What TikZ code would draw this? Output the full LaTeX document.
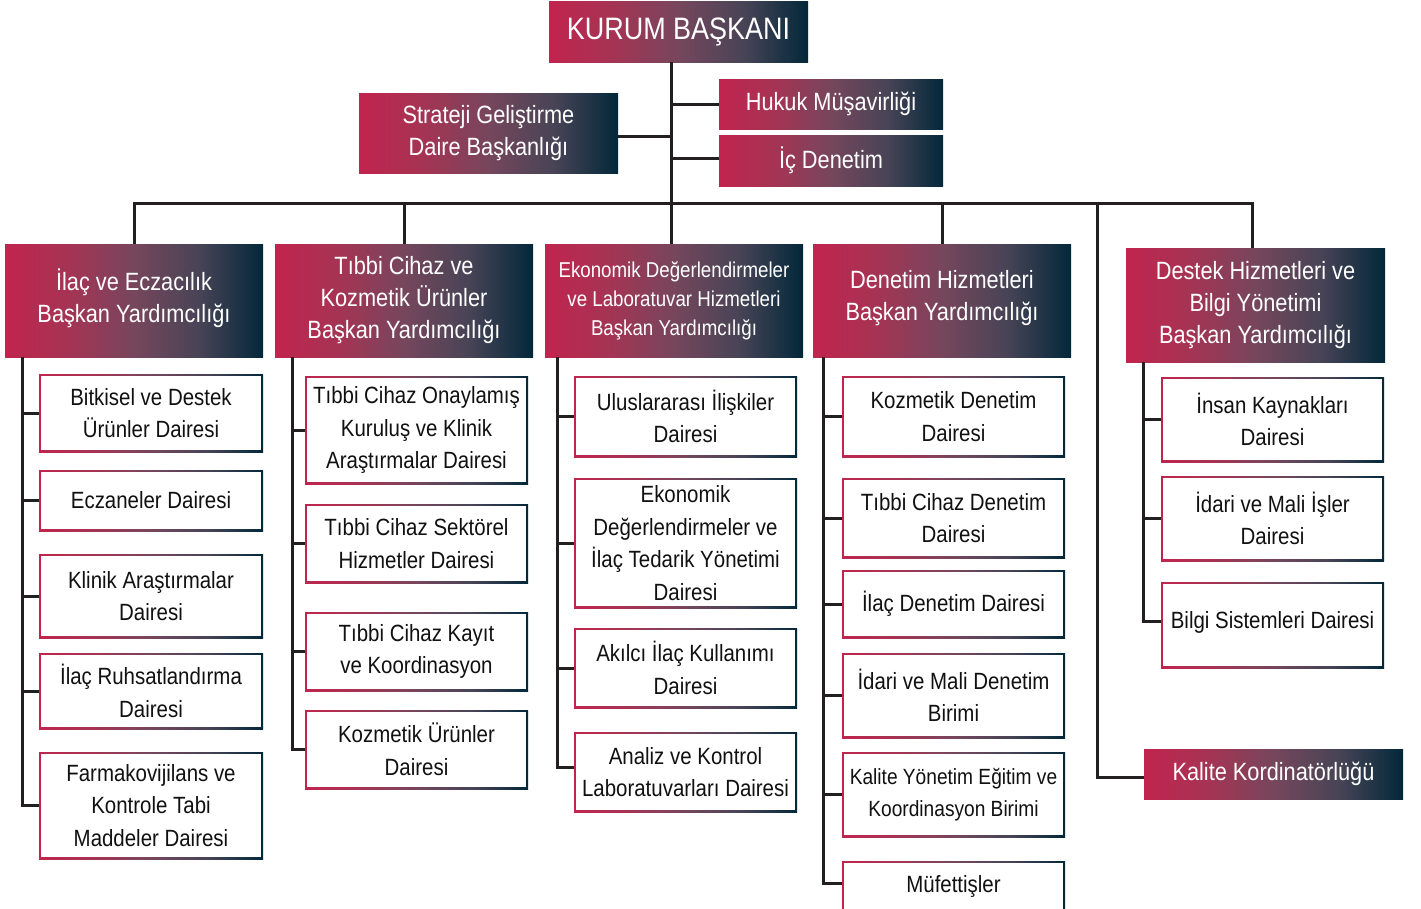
\documentclass[tikz,border=0pt]{standalone}
\usepackage{fontspec}
\setmainfont{Liberation Sans}[FakeStretch=0.87]
\definecolor{crim}{RGB}{193,36,78}
\definecolor{gA}{RGB}{165,52,84}
\definecolor{gB}{RGB}{118,70,92}
\definecolor{gC}{RGB}{72,68,86}
\definecolor{navy}{RGB}{2,40,58}
\definecolor{ln}{RGB}{35,31,32}
\definecolor{txt}{RGB}{17,17,17}
\pgfdeclarehorizontalshading{crimnavy}{100bp}{color(0bp)=(crim); color(25bp)=(crim); color(37.5bp)=(gA); color(50bp)=(gB); color(62.5bp)=(gC); color(75bp)=(navy); color(100bp)=(navy)}
\newcommand\hfont{\fontsize{25}{32}\selectfont}
\newcommand\kfont{\fontsize{31}{36}\selectfont}
\newcommand\efont{\fontsize{21.5}{29}\selectfont}
\newcommand\bfont{\fontsize{23.5}{32.5}\selectfont}
\newcommand\sfont{\fontsize{22}{32}\selectfont}
\tikzset{
  gbox/.style={shade, shading=crimnavy, inner sep=0pt, text=white, align=center, font=\hfont},
  wbox/.style={shade, shading=crimnavy, inner sep=0pt, text=txt, align=center, font=\bfont,
    path picture={\fill[white] ([shift={(2.2pt,2.2pt)}]path picture bounding box.south west) rectangle ([shift={(-2.2pt,-2.2pt)}]path picture bounding box.north east);}},
  conn/.style={draw=ln, line width=3pt},
}
\newcommand\mkbox[7]{%
  \node[#1, minimum width={(#5-#3)*1pt}, minimum height={(#6-#4)*1pt}] (#2) at ({(#3+#5)/2},{(#4+#6)/2}) {#7};}
\begin{document}
\begin{tikzpicture}[x=1pt,y=-1pt]
\path[use as bounding box, fill=white] (0,0) rectangle (1421,908);
% top level
\mkbox{gbox,font=\kfont}{kurum}{549}{1}{808}{62}{KURUM BAŞKANI}
\mkbox{gbox}{hukuk}{719}{79}{943}{129}{Hukuk Müşavirliği}
\mkbox{gbox}{ic}{719}{135}{943}{186}{İç Denetim}
\mkbox{gbox}{strat}{359}{93}{618}{173}{Strateji Geliştirme\\Daire Başkanlığı}
% headers
\mkbox{gbox}{h1}{5}{244}{263}{357}{İlaç ve Eczacılık\\Başkan Yardımcılığı\rule[-10pt]{0pt}{1pt}}
\mkbox{gbox}{h2}{275}{244}{533}{357}{Tıbbi Cihaz ve\\Kozmetik Ürünler\\Başkan Yardımcılığı}
\mkbox{gbox,font=\efont}{h3}{545}{244}{803}{357}{Ekonomik Değerlendirmeler\\ve Laboratuvar Hizmetleri\\Başkan Yardımcılığı}
\mkbox{gbox}{h4}{813}{244}{1071}{357}{Denetim Hizmetleri\\Başkan Yardımcılığı\rule[-10pt]{0pt}{1pt}}
\mkbox{gbox}{h5}{1126}{248}{1385}{362}{Destek Hizmetleri ve\\Bilgi Yönetimi\\Başkan Yardımcılığı}
\mkbox{gbox}{kalite}{1144}{749}{1403}{799}{Kalite Kordinatörlüğü}
% column 1
\mkbox{wbox}{b11}{39}{374}{263}{452}{Bitkisel ve Destek\\Ürünler Dairesi}
\mkbox{wbox}{b12}{39}{470}{263}{531}{Eczaneler Dairesi}
\mkbox{wbox}{b13}{39}{554}{263}{638}{Klinik Araştırmalar\\Dairesi}
\mkbox{wbox}{b14}{39}{653}{263}{729}{İlaç Ruhsatlandırma\\Dairesi}
\mkbox{wbox}{b15}{39}{752}{263}{859}{Farmakovijilans ve\\Kontrole Tabi\\Maddeler Dairesi}
% column 2
\mkbox{wbox}{b21}{305}{376}{528}{484}{Tıbbi Cihaz Onaylamış\\Kuruluş ve Klinik\\Araştırmalar Dairesi}
\mkbox{wbox}{b22}{305}{504}{528}{583}{Tıbbi Cihaz Sektörel\\Hizmetler Dairesi}
\mkbox{wbox}{b23}{305}{612}{528}{691}{Tıbbi Cihaz Kayıt\\ve Koordinasyon}
\mkbox{wbox}{b24}{305}{710}{528}{789}{Kozmetik Ürünler\\Dairesi}
% column 3
\mkbox{wbox}{b31}{574}{376}{797}{457}{Uluslararası İlişkiler\\Dairesi}
\mkbox{wbox}{b32}{574}{478}{797}{608}{Ekonomik\\Değerlendirmeler ve\\İlaç Tedarik Yönetimi\\Dairesi}
\mkbox{wbox}{b33}{574}{628}{797}{708}{Akılcı İlaç Kullanımı\\Dairesi}
\mkbox{wbox}{b34}{574}{732}{797}{812}{Analiz ve Kontrol\\Laboratuvarları Dairesi}
% column 4
\mkbox{wbox}{b41}{842}{376}{1065}{457}{Kozmetik Denetim\\Dairesi}
\mkbox{wbox}{b42}{842}{478}{1065}{558}{Tıbbi Cihaz Denetim\\Dairesi}
\mkbox{wbox}{b43}{842}{570}{1065}{638}{İlaç Denetim Dairesi}
\mkbox{wbox}{b44}{842}{653}{1065}{738}{İdari ve Mali Denetim\\Birimi}
\mkbox{wbox,font=\sfont}{b45}{842}{752}{1065}{837}{Kalite Yönetim Eğitim ve\\Koordinasyon Birimi}
\mkbox{wbox}{b46}{842}{861}{1065}{912}{Müfettişler}
% column 5
\mkbox{wbox}{b51}{1161}{377}{1384}{462}{İnsan Kaynakları\\Dairesi}
\mkbox{wbox}{b52}{1161}{476}{1384}{561}{İdari ve Mali İşler\\Dairesi}
\mkbox{wbox}{b53}{1161}{582}{1384}{668}{Bilgi Sistemleri Dairesi\rule[-10pt]{0pt}{1pt}}
% connector coordinates
\coordinate (t) at (671,203);
\coordinate (kx) at (1097,203);
\coordinate (r5) at (1252,203);
\coordinate (c1) at (22,0);
\coordinate (c2) at (292.5,0);
\coordinate (c3) at (557,0);
\coordinate (c4) at (823,0);
\coordinate (c5) at (1143,0);
% top connectors
\draw[conn] (kurum.south -| t) -- (h3.north -| t);
\draw[conn] (hukuk.west) -- (hukuk.west -| t);
\draw[conn] ([yshift=2pt]ic.west) -- ([yshift=2pt]ic.west -| t);
\draw[conn] ([yshift=-3pt]strat.east) -- ([yshift=-3pt]strat.east -| t);
\draw[conn] (h1.north) -- (h1.north |- t) -- (r5) -- (h5.north -| r5);
\draw[conn] (h2.north) -- (h2.north |- t);
\draw[conn] (h4.north) -- (h4.north |- t);
\draw[conn] (kx) |- ([yshift=-3pt]kalite.west);
% column connectors
\draw[conn] (h1.south -| c1) |- (b15.west);
\foreach \b in {b11,b12,b13,b14} \draw[conn] (\b.west) -- (\b.west -| c1);
\draw[conn] (h2.south -| c2) |- (b24.west);
\foreach \b in {b21,b22,b23} \draw[conn] (\b.west) -- (\b.west -| c2);
\draw[conn] (h3.south -| c3) |- ([yshift=5pt]b34.west);
\foreach \b in {b31,b32,b33} \draw[conn] (\b.west) -- (\b.west -| c3);
\draw[conn] (h4.south -| c4) |- ([yshift=3pt]b46.west);
\foreach \b in {b41,b42,b43,b44,b45} \draw[conn] (\b.west) -- (\b.west -| c4);
\draw[conn] (h5.south -| c5) |- ([yshift=4pt]b53.west);
\foreach \b in {b51,b52} \draw[conn] (\b.west) -- (\b.west -| c5);
\end{tikzpicture}
\end{document}
